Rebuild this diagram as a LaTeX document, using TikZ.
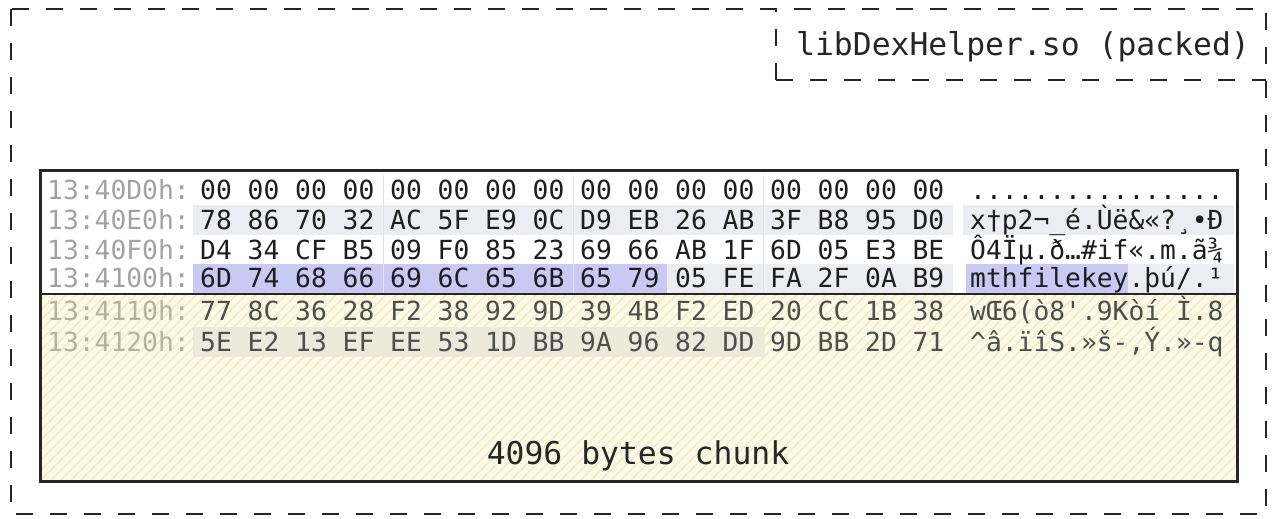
\documentclass[tikz,border=0pt]{standalone}
\usepackage{fontspec}
\setmonofont{DejaVu Sans Mono}
\definecolor{addrtop}{HTML}{A2A2A2}
\definecolor{addrbot}{HTML}{B8B19C}
\definecolor{hextop}{HTML}{1E1E1E}
\definecolor{hexbot}{HTML}{4E4E4E}
\definecolor{rowtint}{HTML}{ECECF3}
\definecolor{hilite}{HTML}{C9C9F3}
\definecolor{chunkfill}{HTML}{FDFBE7}
\definecolor{hatch}{HTML}{F0EBC8}
\definecolor{rowtintbot}{HTML}{EBEADB}
\definecolor{grpline}{HTML}{E2E2E2}
\begin{document}
\begin{tikzpicture}[x=1pt,y=-1pt,
  dashbox/.style={draw=black!85,line width=2.8pt,dash pattern=on 17pt off 17pt},
  hexfont/.style={font=\ttfamily\fontsize{26.3}{30}\selectfont,inner sep=0pt,anchor=west,text height=19.2pt,text depth=0pt},
  addrT/.style={hexfont,text=addrtop},
  addrB/.style={hexfont,text=addrbot},
  hexT/.style={hexfont,text=hextop},
  hexB/.style={hexfont,text=hexbot},
  labelfont/.style={font=\ttfamily\fontsize{31.4}{36}\selectfont,inner sep=0pt,text=black!85}]
\useasboundingbox (0,0) rectangle (1280,519);
% outer dashed container
\draw[dashbox] (11,9) rectangle (1266,514);
% label box
\draw[dashbox] (776,80) -- (776,9);
\draw[dashbox] (776,80) -- (1266,80);
\node[labelfont] (lib) at (1023,47) {libDexHelper.so (packed)};
% chunk area (yellow, hatched)
\fill[chunkfill] (40,294) rectangle (1237,481);
\begin{scope}
\clip (40,294) rectangle (1237,481);
\foreach \i in {0,...,140} {
  \draw[hatch,line width=1.5pt] ({40-190+\i*10},481) -- ++(190,-190);
}
\end{scope}
\fill[rowtintbot] (193,327) rectangle (765,357);
% top rows backgrounds
\fill[rowtint] (193,205) rectangle (953,235);
\fill[rowtint] (963,205) rectangle (1234,235);
\fill[hilite] (193,264) rectangle (667,293);
\fill[rowtint] (667,264) rectangle (953,293);
\fill[hilite] (966,264) rectangle (1128,293);
\fill[rowtint] (1128,264) rectangle (1234,293);
\foreach \gx in {383,573,763} {
  \draw[grpline,line width=1pt] (\gx,175) -- (\gx,293);
}
% frame
\draw[black!85,line width=3pt] (40,170) rectangle (1237,481);
\draw[black!85,line width=2.6pt] (40,294) -- (1237,294);
% row 1
\node[addrT] (a1) at (47,190) {13:40D0h:};
\node[hexT] (h1) at (200,190) {00 00 00 00 00 00 00 00 00 00 00 00 00 00 00 00};
\node[hexT] (c1) at (970,190) {................};
% row 2
\node[addrT] (a2) at (47,220) {13:40E0h:};
\node[hexT] (h2) at (200,220) {78 86 70 32 AC 5F E9 0C D9 EB 26 AB 3F B8 95 D0};
\node[hexT] (c2) at (970,220) {x†p2¬\_é.Ùë\&«?¸•Ð};
% row 3
\node[addrT] (a3) at (47,250) {13:40F0h:};
\node[hexT] (h3) at (200,250) {D4 34 CF B5 09 F0 85 23 69 66 AB 1F 6D 05 E3 BE};
\node[hexT] (c3) at (970,250) {Ô4Ïµ.ð…\#if«.m.ã¾};
% row 4
\node[addrT] (a4) at (47,278) {13:4100h:};
\node[hexT] (h4) at (200,278) {6D 74 68 66 69 6C 65 6B 65 79 05 FE FA 2F 0A B9};
\node[hexT] (c4) at (970,278) {mthfilekey.þú/.¹};
% row 5
\node[addrB] (a5) at (47,311) {13:4110h:};
\node[hexB] (h5) at (200,311) {77 8C 36 28 F2 38 92 9D 39 4B F2 ED 20 CC 1B 38};
\node[hexB] (c5) at (970,311) {wŒ6(ò8'.9Kòí Ì.8};
% row 6
\node[addrB] (a6) at (47,342) {13:4120h:};
\node[hexB] (h6) at (200,342) {5E E2 13 EF EE 53 1D BB 9A 96 82 DD 9D BB 2D 71};
\node[hexB] (c6) at (970,342) {\^{}â.ïîS.»š-,Ý.»-q};
% chunk label
\node[labelfont] (chunk) at (638,456) {4096 bytes chunk};
\end{tikzpicture}
\end{document}
